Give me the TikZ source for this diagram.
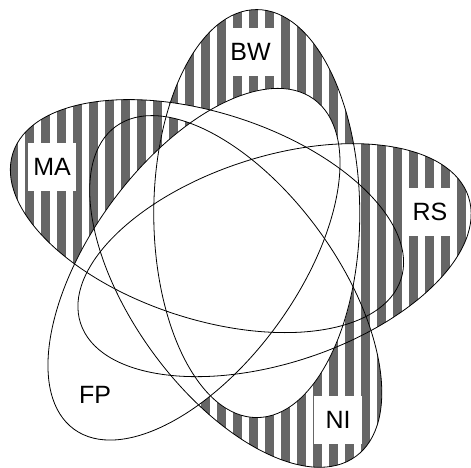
\documentclass[tikz,border=0pt]{standalone}
\usepackage{fontspec}
\setmainfont{Liberation Sans}
\definecolor{stripegray}{RGB}{102,102,102}
\newcommand\IN[1]{\clip[e#1] (c#1) ellipse (204 and 103);}
\newcommand\WHITE[1]{\fill[white,e#1] (c#1) ellipse (204 and 103);}
\newcommand\STRIPES{\foreach \i in {0,...,29}{\fill[stripegray] ({9.3+16*\i},-10) rectangle ({17.5+16*\i},480);}}
\begin{document}
\begin{tikzpicture}[x=1pt,y=-1pt,
  eB/.style={rotate around={90:(cB)}},
  eM/.style={rotate around={162:(cM)}},
  eF/.style={rotate around={234:(cF)}},
  eN/.style={rotate around={306:(cN)}},
  eR/.style={rotate around={18:(cR)}},
  outline/.style={draw=black,line width=0.8pt},
  lab/.style={fill=white,minimum width=48pt,minimum height=48pt,inner sep=0pt,font=\fontsize{25}{25}\selectfont}]
\useasboundingbox (0,0) rectangle (471,468);
\coordinate (cB) at (256.75,213.58);
\coordinate (cM) at (206.97,216.10);
\coordinate (cF) at (193.99,264.22);
\coordinate (cN) at (235.75,291.45);
\coordinate (cR) at (274.54,260.15);
% stripes in MA, RS, NI
\begin{scope}\IN{M}\STRIPES\end{scope}
\begin{scope}\IN{R}\STRIPES\end{scope}
\begin{scope}\IN{N}\STRIPES\end{scope}
% inside BW: striped only for BW alone and BW+MA+NI
\begin{scope}
  \IN{B}
  \fill[white] (-10,-10) rectangle (480,480);
  \STRIPES
  \WHITE{M}\WHITE{R}\WHITE{N}\WHITE{F}
  \begin{scope}
    \IN{M}\IN{N}\STRIPES\WHITE{R}\WHITE{F}
  \end{scope}
\end{scope}
% FP white
\WHITE{F}
% outlines
\foreach \s in {B,M,F,N,R}{\draw[outline,e\s] (c\s) ellipse (204 and 103);}
% labels
\node[lab] (BW) at (250.5,52) {BW};
\node[lab] (MA) at (52,167) {MA};
\node[lab] (RS) at (430,211.5) {RS};
\node[lab] (NI) at (338,419.5) {NI};
\node[lab] (FP) at (95,395) {FP};
\end{tikzpicture}
\end{document}
